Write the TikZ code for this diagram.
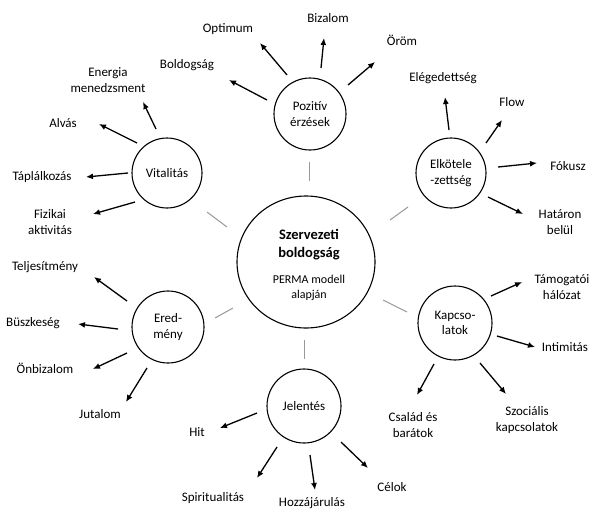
\documentclass[tikz,border=0pt]{standalone}
\usepackage{fontspec}
\setmainfont{Carlito}
\usetikzlibrary{arrows.meta,shapes.geometric}
\tikzset{
  sat/.style={draw=black, line width=1.1pt, circle, inner sep=0pt, align=center, font=\fontsize{13}{15.5}\selectfont},
  hub/.style={draw=black, line width=1.1pt, ellipse, inner sep=0pt, align=center},
  lbl/.style={align=center, inner sep=0pt, font=\fontsize{13}{16}\selectfont},
  arr/.style={line width=1.3pt, -{Latex[length=7pt,width=6pt]}},
  link/.style={draw=gray!80, line width=1pt},
}
\begin{document}
\begin{tikzpicture}[x=1pt,y=-1pt]
\useasboundingbox (0,0) rectangle (593,512);
% hub
\node[hub, minimum width=138pt, minimum height=132pt] (hub) at (306,262) {};
\node[align=center, inner sep=0pt, font=\fontsize{14.5}{18}\selectfont\bfseries] (hubt) at (309,245) {Szervezeti\\boldogság};
\node[align=center, inner sep=0pt, font=\fontsize{12}{14.5}\selectfont] (hubs) at (309,288) {PERMA modell\\alapján};
% satellites
\node[sat, minimum size=72pt] (poz) at (310,114) {Pozitív\\érzések};
\node[sat, minimum size=70pt] (vit) at (167,173) {Vitalitás};
\node[sat, minimum size=70pt] (elk) at (451,173) {Elkötele\\-zettség};
\node[sat, minimum size=72pt] (ered) at (168,327) {Ered-\\mény};
\node[sat, minimum size=74pt] (kap) at (455,323) {Kapcso-\\latok};
\node[sat, minimum size=74pt] (jel) at (304,406) {Jelentés};
% gray links
\coordinate (g1a) at (309,162); \coordinate (g1b) at (309,181);
\coordinate (g2a) at (304,340); \coordinate (g2b) at (304,359);
\coordinate (g3a) at (207,212); \coordinate (g3b) at (227,227);
\coordinate (g4a) at (390,220); \coordinate (g4b) at (408,207);
\coordinate (g5a) at (215,318); \coordinate (g5b) at (233,308);
\coordinate (g6a) at (383,300); \coordinate (g6b) at (407,312);
\foreach \i in {1,...,6} \draw[link] (g\i a) -- (g\i b);
% labels
\node[lbl] (l1) at (187,65) {Boldogság};
\node[lbl] (l2) at (228,29) {Optimum};
\node[lbl] (l3) at (328,18) {Bizalom};
\node[lbl] (l4) at (402,40) {Öröm};
\node[lbl] (l5) at (108,80) {Energia\\menedzsment};
\node[lbl] (l6) at (63,123) {Alvás};
\node[lbl] (l7) at (42,177) {Táplálkozás};
\node[lbl] (l8) at (50,222) {Fizikai\\aktivitás};
\node[lbl] (l9) at (443,78) {Elégedettség};
\node[lbl] (l10) at (512,102) {Flow};
\node[lbl] (l11) at (568,166) {Fókusz};
\node[lbl] (l12) at (560,222) {Határon\\belül};
\node[lbl] (l13) at (45,267) {Teljesítmény};
\node[lbl] (l14) at (33,323) {Büszkeség};
\node[lbl] (l15) at (45,368) {Önbizalom};
\node[lbl] (l16) at (100,414) {Jutalom};
\node[lbl] (l17) at (562,287) {Támogatói\\hálózat};
\node[lbl] (l18) at (565,347) {Intimitás};
\node[lbl] (l19) at (413,425) {Család és\\barátok};
\node[lbl] (l20) at (527,420) {Szociális\\kapcsolatok};
\node[lbl] (l21) at (197,432) {Hit};
\node[lbl] (l22) at (213,498) {Spiritualitás};
\node[lbl] (l23) at (312,503) {Hozzájárulás};
\node[lbl] (l24) at (392,487) {Célok};
% arrow endpoints
\coordinate (s1) at (267,100); \coordinate (e1) at (229,80);
\coordinate (s2) at (287,75);  \coordinate (e2) at (260,43);
\coordinate (s3) at (321,68);  \coordinate (e3) at (324,38);
\coordinate (s4) at (348,85);  \coordinate (e4) at (375,62);
\coordinate (s5) at (156,129); \coordinate (e5) at (143,102);
\coordinate (s6) at (137,143); \coordinate (e6) at (99,124);
\coordinate (s7) at (128,173); \coordinate (e7) at (86,177);
\coordinate (s8) at (135,202); \coordinate (e8) at (93,214);
\coordinate (s9) at (449,130); \coordinate (e9) at (445,97);
\coordinate (s10) at (486,143); \coordinate (e10) at (502,120);
\coordinate (s11) at (498,167); \coordinate (e11) at (537,163);
\coordinate (s12) at (488,197); \coordinate (e12) at (523,214);
\coordinate (s13) at (127,301); \coordinate (e13) at (94,277);
\coordinate (s14) at (118,329); \coordinate (e14) at (78,324);
\coordinate (s15) at (127,353); \coordinate (e15) at (93,369);
\coordinate (s16) at (147,368); \coordinate (e16) at (126,402);
\coordinate (s17) at (491,296); \coordinate (e17) at (522,282);
\coordinate (s18) at (497,336); \coordinate (e18) at (535,347);
\coordinate (s19) at (434,364); \coordinate (e19) at (417,395);
\coordinate (s20) at (480,363); \coordinate (e20) at (506,394);
\coordinate (s21) at (257,413); \coordinate (e21) at (220,428);
\coordinate (s22) at (277,447); \coordinate (e22) at (257,478);
\coordinate (s23) at (310,455); \coordinate (e23) at (315,490);
\coordinate (s24) at (341,442); \coordinate (e24) at (368,468);
\foreach \i in {1,...,24} \draw[arr] (s\i) -- (e\i);
\end{tikzpicture}
\end{document}
